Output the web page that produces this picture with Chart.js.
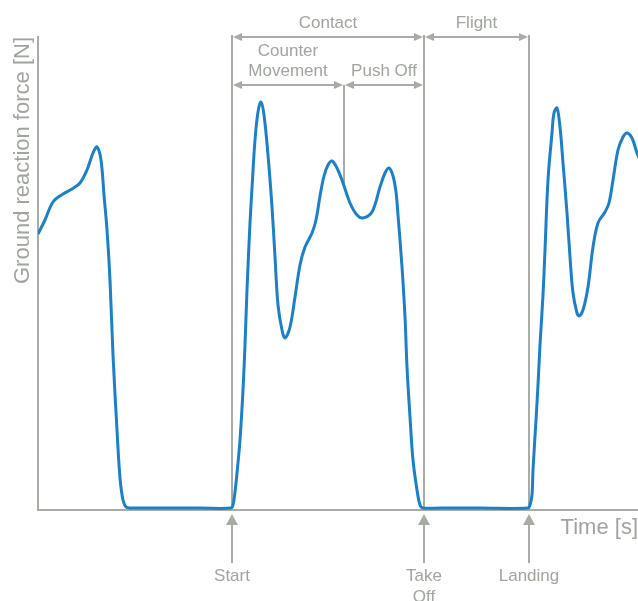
<!DOCTYPE html>
<html>
<head>
<meta charset="utf-8">
<script src="https://cdn.jsdelivr.net/npm/chart.js@4.4.1/dist/chart.umd.min.js"></script>
<style>
html,body{margin:0;padding:0;background:#ffffff;overflow:hidden}
canvas{display:block}
</style>
</head>
<body>
<canvas id="c" width="638" height="601"></canvas>
<script>
// ---- data (time in s, force in N) ----
const timeS = [
  0.000,0.035,0.075,0.125,0.170,0.210,0.245,0.275,0.295,0.315,0.330,0.345,0.360,0.375,0.395,0.410,0.425,0.440,0.460,0.610,0.810,0.965,
  0.975,0.985,0.995,1.010,1.025,1.035,1.045,1.060,1.070,1.085,1.100,1.115,1.130,1.150,1.170,1.185,1.200,1.220,1.235,1.260,1.285,1.310,
  1.335,1.370,1.390,1.410,1.430,1.450,1.470,1.495,1.525,1.560,1.595,1.625,1.670,1.710,1.735,1.755,1.775,1.790,1.800,1.820,1.835,1.845,
  1.860,1.875,1.895,1.910,1.925,2.010,2.210,2.450,
  2.460,2.470,2.475,2.490,2.500,2.510,2.525,2.535,2.550,2.570,2.580,2.595,2.610,2.625,2.645,2.660,2.675,2.695,2.705,2.725,2.750,2.775,
  2.800,2.835,2.855,2.875,2.900,2.925,2.945,2.970,2.995,3.010
];
const forceN = [
  1380,1450,1540,1580,1605,1635,1700,1785,1815,1750,1575,1400,1150,775,400,160,50,15,10,10,10,10,
  25,90,185,350,600,825,1100,1435,1610,1850,1990,2040,1975,1775,1515,1265,1025,900,860,915,1065,1225,
  1315,1385,1450,1570,1670,1725,1745,1710,1635,1535,1475,1460,1490,1615,1685,1710,1670,1590,1475,1215,965,715,
  465,250,100,25,10,10,10,10,
  25,75,200,450,625,825,1075,1300,1650,1885,1985,2010,1915,1735,1485,1265,1085,985,970,1000,1115,1315,
  1435,1490,1535,1650,1800,1865,1885,1860,1785,1750
];
const eventTimes  = [0.97, 1.93, 2.455];            // Start, Take Off, Landing
const eventLabels = [['Start'], ['Take', 'Off'], ['Landing']];
const phaseSplit  = 1.53;                          // Counter Movement / Push Off boundary
const phaseTop    = ['Contact', 'Flight'];
const phaseSub    = [['Counter', 'Movement'], ['Push Off']];
const xTitle = 'Time [s]';
const yTitle = 'Ground reaction force [N]';

const GRAY = '#a7aca5';
const TEXT = '#a0a59e';
const FONT = '"Liberation Sans", Arial, sans-serif';

function forceAt(t) {
  for (let i = 0; i < timeS.length - 1; i++) {
    if (t >= timeS[i] && t <= timeS[i + 1]) {
      return forceN[i] + (forceN[i + 1] - forceN[i]) * (t - timeS[i]) / (timeS[i + 1] - timeS[i]);
    }
  }
  return 0;
}

function head(ctx, x, y, dir, len, hw) {
  ctx.beginPath();
  if (dir === 'left')  { ctx.moveTo(x, y); ctx.lineTo(x + len, y - hw); ctx.lineTo(x + len, y + hw); }
  if (dir === 'right') { ctx.moveTo(x, y); ctx.lineTo(x - len, y - hw); ctx.lineTo(x - len, y + hw); }
  if (dir === 'up')    { ctx.moveTo(x, y); ctx.lineTo(x - hw, y + len); ctx.lineTo(x + hw, y + len); }
  ctx.closePath();
  ctx.fill();
}

function hArrow(ctx, x1, x2, y) {
  const len = 9, hw = 4;
  ctx.beginPath();
  ctx.moveTo(x1 + len - 1, y);
  ctx.lineTo(x2 - len + 1, y);
  ctx.stroke();
  head(ctx, x1 + 1, y, 'left', len, hw);
  head(ctx, x2 - 1, y, 'right', len, hw);
}

const annotations = {
  id: 'jumpAnnotations',
  beforeDatasetsDraw(chart) {
    const ctx = chart.ctx;
    const xs = chart.scales.x, ys = chart.scales.y;
    const top = chart.chartArea.top, bottom = chart.chartArea.bottom;
    const [xStart, xTake, xLand] = eventTimes.map(t => xs.getPixelForValue(t));
    const xSplit = xs.getPixelForValue(phaseSplit);
    const lvl2 = top + 48;

    ctx.save();
    ctx.strokeStyle = GRAY;
    ctx.fillStyle = GRAY;
    ctx.lineWidth = 2;

    [xStart, xTake, xLand].forEach(x => {
      ctx.beginPath();
      ctx.moveTo(x, top - 2);
      ctx.lineTo(x, bottom);
      ctx.stroke();
    });
    ctx.beginPath();
    ctx.moveTo(xSplit, lvl2);
    ctx.lineTo(xSplit, ys.getPixelForValue(forceAt(phaseSplit)) + 2);
    ctx.stroke();

    hArrow(ctx, xStart, xTake, top);
    hArrow(ctx, xTake, xLand, top);
    hArrow(ctx, xStart, xSplit, lvl2);
    hArrow(ctx, xSplit, xTake, lvl2);

    [xStart, xTake, xLand].forEach(x => {
      ctx.beginPath();
      ctx.moveTo(x, bottom + 12);
      ctx.lineTo(x, bottom + 53);
      ctx.stroke();
      head(ctx, x, bottom + 4, 'up', 11, 6);
    });

    ctx.fillStyle = TEXT;
    ctx.font = '17px ' + FONT;
    ctx.textAlign = 'center';
    ctx.textBaseline = 'middle';
    ctx.fillText(phaseTop[0], (xStart + xTake) / 2, top - 14);
    ctx.fillText(phaseTop[1], (xTake + xLand) / 2, top - 14);
    const cm = (xStart + xSplit) / 2, po = (xSplit + xTake) / 2;
    ctx.fillText(phaseSub[0][0], cm, top + 14);
    ctx.fillText(phaseSub[0][1], cm, top + 34);
    ctx.fillText(phaseSub[1][0], po, top + 34);
    [xStart, xTake, xLand].forEach((x, i) => {
      eventLabels[i].forEach((s, j) => ctx.fillText(s, x, bottom + 66 + j * 21));
    });
    ctx.restore();
  }
};

new Chart(document.getElementById('c'), {
  type: 'line',
  data: {
    datasets: [{
      data: timeS.map((t, i) => ({x: t, y: forceN[i]})),
      borderColor: '#1b80c8',
      borderWidth: 3,
      pointRadius: 0,
      fill: false,
      tension: 0.35
    }]
  },
  options: {
    responsive: false,
    devicePixelRatio: 1,
    animation: false,
    events: [],
    layout: { padding: { left: 6, right: 0, top: 37, bottom: 55.6 } },
    plugins: { legend: { display: false }, tooltip: { enabled: false } },
    scales: {
      x: {
        type: 'linear', min: 0, max: 3.0,
        ticks: { display: false },
        grid: { display: false, drawTicks: false },
        border: { display: true, color: GRAY, width: 2 },
        title: { display: true, text: xTitle, align: 'end', color: TEXT,
                 font: { family: FONT, size: 22 }, padding: { top: 5, bottom: 4 } }
      },
      y: {
        min: 0, max: 2365,
        ticks: { display: false },
        grid: { display: false, drawTicks: false },
        border: { display: true, color: GRAY, width: 2 },
        title: { display: true, text: yTitle, align: 'end', color: TEXT,
                 font: { family: FONT, size: 22 }, padding: { top: 4, bottom: 1.6 } }
      }
    }
  },
  plugins: [annotations]
});
</script>
</body>
</html>
